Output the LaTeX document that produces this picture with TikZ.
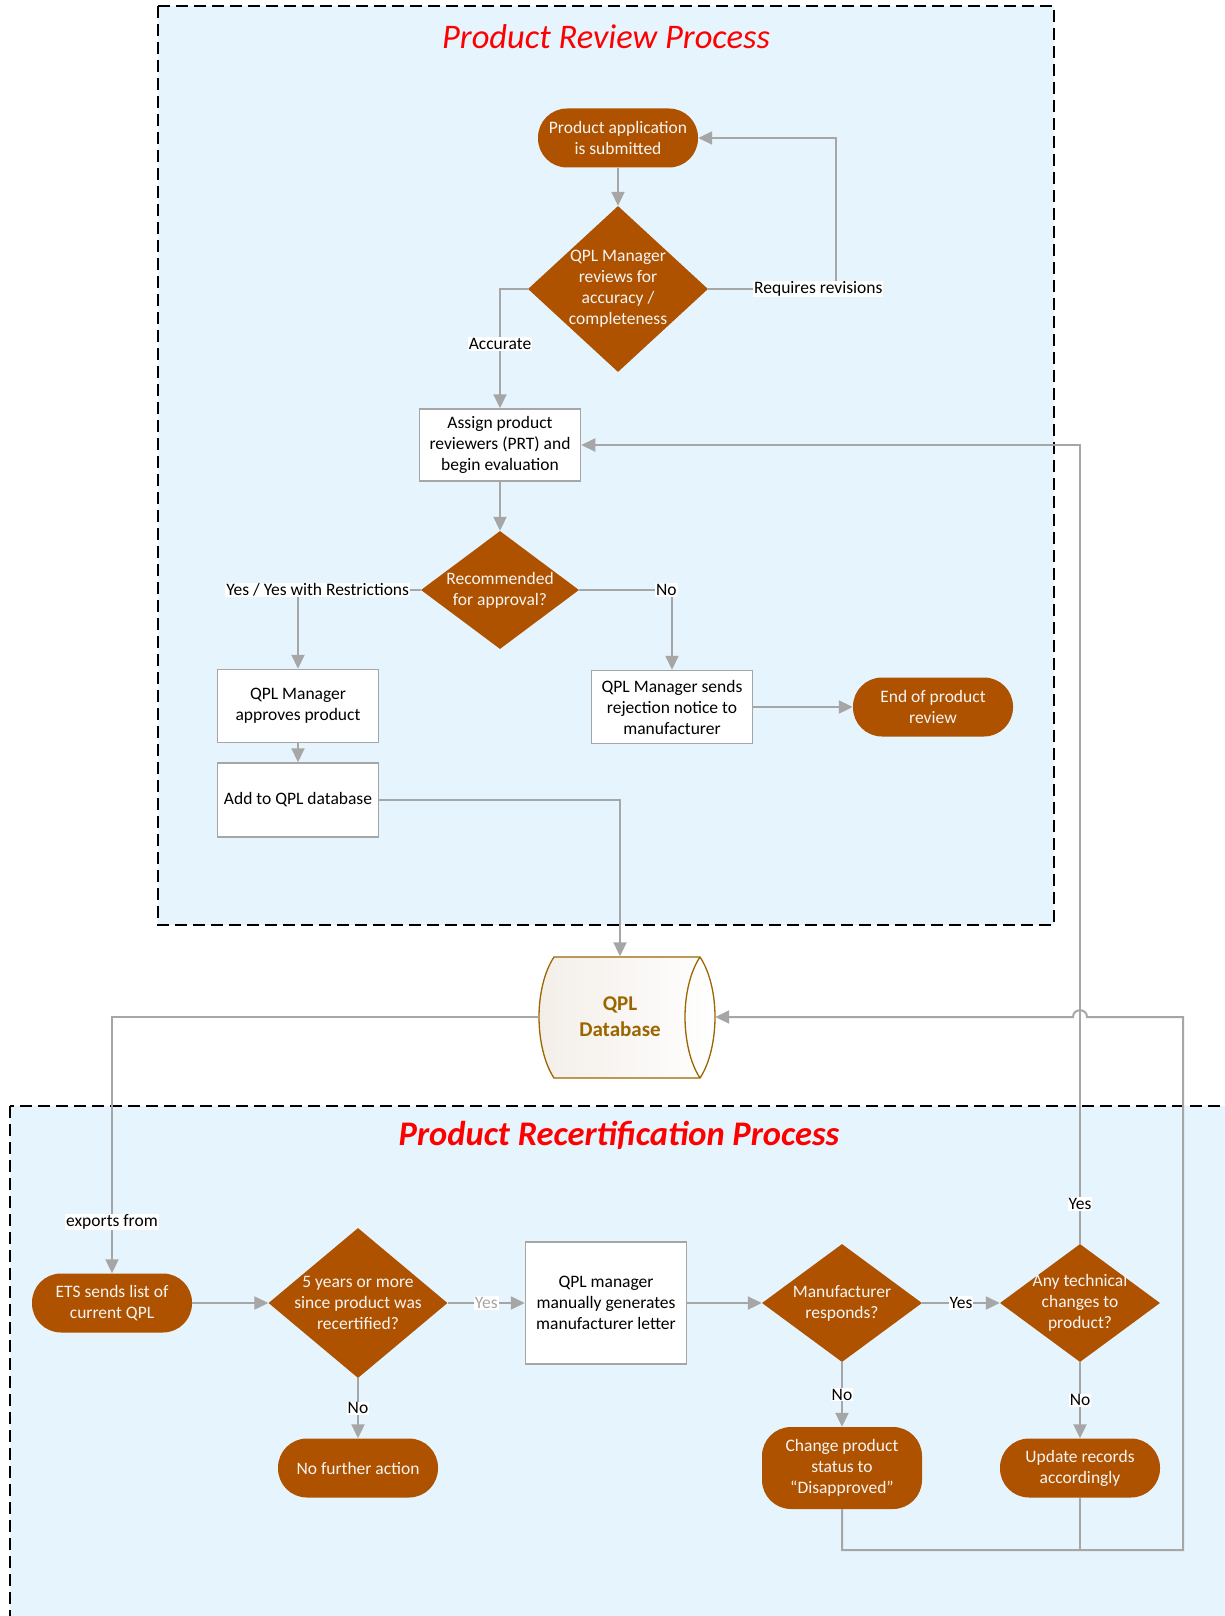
\documentclass[tikz,border=0pt]{standalone}
\usepackage{fontspec}
\setmainfont{Carlito}
\usetikzlibrary{shapes.geometric,arrows.meta,calc}
\definecolor{brn}{RGB}{175,82,0}
\definecolor{lnc}{RGB}{166,166,166}
\definecolor{bgc}{RGB}{230,244,254}
\definecolor{dbc}{RGB}{156,101,0}
\definecolor{dbfill}{RGB}{243,238,232}
\definecolor{txw}{RGB}{245,245,245}
\begin{document}
\begin{tikzpicture}[x=1pt,y=-1pt,
  base/.style={font=\fontsize{17.5pt}{21pt}\selectfont, align=center},
  term/.style={base, rectangle, rounded corners=29pt, fill=brn, text=txw, minimum width=160pt, minimum height=59pt, inner sep=0pt},
  proc/.style={base, rectangle, draw=lnc, line width=1.5pt, fill=white, minimum width=161pt, minimum height=72pt, inner sep=0pt},
  dec/.style={diamond, fill=brn, inner sep=0pt},
  dtext/.style={base, text=txw},
  conn/.style={draw=lnc, line width=2pt, -{Triangle[length=14pt,width=13pt]}},
  plain/.style={draw=lnc, line width=2pt},
  lbl/.style={base, fill=white, inner sep=1pt, text=black},
  title/.style={font=\fontsize{34.5pt}{41pt}\selectfont\itshape, text=red},
  group/.style={draw=black, line width=2pt, dash pattern=on 12pt off 6pt, fill=bgc}
]
\useasboundingbox (0,0) rectangle (1225,1616);
\fill[white] (0,0) rectangle (1225,1616);
\clip (0,0) rectangle (1225,1616);

% group areas
\path[group] (158,6) rectangle (1054,925);
\path[group] (10,1106) rectangle (1250,1650);
\node[title] (t1) at (606,37) {Product Review Process};
\node[title, font=\fontsize{34.5pt}{41pt}\selectfont\bfseries\itshape] (t2) at (619,1135) {Product Recertification Process};

% upper process
\node[term] (top) at (618,138) {Product application\\is submitted};
\node[dec, minimum width=180pt, minimum height=166pt, label={[dtext]center:{QPL Manager\\reviews for\\accuracy /\\completeness}}] (d1) at (618,289) {};
\node[proc] (assign) at (500,445) {Assign product\\reviewers (PRT) and\\begin evaluation};
\node[dec, minimum width=158pt, minimum height=118pt, label={[dtext]center:{Recommended\\for approval?}}] (d2) at (500,590) {};
\node[proc, minimum height=73pt] (approve) at (298,706) {QPL Manager\\approves product};
\node[proc, minimum height=74pt] (add) at (298,800) {Add to QPL database};
\node[proc, minimum height=73pt] (reject) at (672,707) {QPL Manager sends\\rejection notice to\\manufacturer};
\node[term] (end) at (933,707) {End of product\\review};

% database
\path[draw=dbc, line width=1.3pt, left color=dbfill, right color=white]
  (554,957) -- (700,957)
  .. controls (710,972) and (715,995) .. (715,1017)
  .. controls (715,1039) and (710,1063) .. (700,1078)
  -- (554,1078)
  .. controls (544,1063) and (539,1039) .. (539,1017)
  .. controls (539,995) and (544,972) .. (554,957) -- cycle;
\draw[dbc, line width=1.3pt] (700,957)
  .. controls (690,972) and (685,995) .. (685,1017)
  .. controls (685,1039) and (690,1063) .. (700,1078);
\node[minimum width=176pt, minimum height=121pt, inner sep=0pt,
  label={[font=\fontsize{21pt}{26pt}\selectfont\bfseries, text=dbc, align=center, xshift=-7pt]center:{QPL\\Database}}] (db) at (627,1017) {};

% lower process
\node[term] (ets) at (112,1303) {ETS sends list of\\current QPL};
\node[dec, minimum width=179pt, minimum height=150pt, label={[dtext]center:{5 years or more\\since product was\\recertified?}}] (d5) at (358,1303) {};
\node[proc, minimum height=122pt] (letter) at (606,1303) {QPL manager\\manually generates\\manufacturer letter};
\node[dec, minimum width=160pt, minimum height=118pt, label={[dtext]center:{Manufacturer\\responds?}}] (dm) at (842,1303) {};
\node[dec, minimum width=160pt, minimum height=118pt, label={[dtext]center:{Any technical\\changes to\\product?}}] (dt) at (1080,1303) {};
\node[term] (nfa) at (358,1468) {No further action};
\node[term, minimum height=82pt] (change) at (842,1468) {Change product\\status to\\“Disapproved”};
\node[term] (update) at (1080,1468) {Update records\\accordingly};

% connectors upper
\draw[conn] (top) -- (d1);
\draw[conn] (d1.east) -- node[lbl,pos=0.86]{Requires revisions} ++(128,0) |- (top.east);
\draw[conn] (d1.west) -| node[lbl,pos=0.73]{Accurate} (assign.north);
\draw[conn] (assign) -- (d2);
\draw[conn] (d2.west) -| node[lbl,pos=0.42]{Yes / Yes with Restrictions} (approve.north);
\draw[conn] (d2.east) -| node[lbl,pos=0.47]{No} (reject.north);
\draw[conn] (reject) -- (end);
\draw[conn] (approve) -- (add);
\draw[conn] (add.east) -| ([xshift=-7pt]db.north);

% connectors lower
\draw[conn] (db.west) -| node[lbl,pos=0.9]{exports from} (ets.north);
\draw[conn] (ets) -- (d5);
\draw[conn] (d5) -- node[lbl, text=lnc]{Yes} (letter);
\draw[conn] (d5) -- node[lbl]{No} (nfa);
\draw[conn] (letter) -- (dm);
\draw[conn] (dm) -- node[lbl]{Yes} (dt);
\draw[conn] (dm) -- node[lbl]{No} (change);
\draw[conn] (dt) -- node[lbl]{No} (update);
\draw[conn] (dt.north) |- node[lbl,pos=0.025]{Yes} (assign.east);
\coordinate (br) at (1183,1550);
\coordinate (hopR) at (1087,1017);
\coordinate (hopL) at (1073,1017);
\draw[conn] (change.south) |- (br) -- (br |- hopR) -- (hopR) .. controls +(0,-9) and +(0,-9) .. (hopL) -- (db.east);
\draw[plain] (update.south) -- (update.south |- br);
\end{tikzpicture}
\end{document}
